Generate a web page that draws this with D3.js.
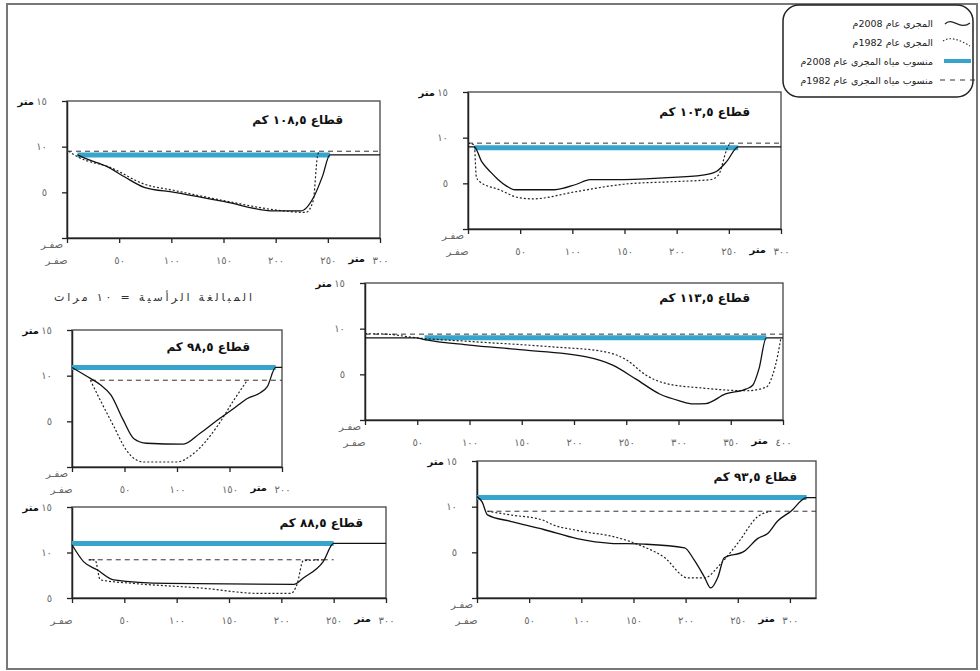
<!DOCTYPE html>
<html>
<head>
<meta charset="utf-8">
<script src="https://cdn.jsdelivr.net/npm/d3@7"></script>
<style>
  body { margin: 0; background: #fff; }
  svg { display: block; font-family: "DejaVu Sans", sans-serif; }
</style>
</head>
<body>
<svg id="chart" width="980" height="671"></svg>
<script>
// cross sections: [distance m, elevation m]
const bed2008_108 = [[10,9.1],[20,8.6],[38,7.85],[55,6.7],[74,5.55],[103,5.0],[150,4.0],[199,2.96],[224,2.96],[237,4.6],[245,6.8],[252,9.1],[300,9.1]];
const bed1982_108 = [[1.6,9.5],[10,8.9],[42,7.7],[74,5.9],[103,5.2],[150,4.1],[208,2.96],[229,2.8],[236,4.1],[240,8.9],[242,9.5]];

const bed2008_103 = [[0,9.0],[6,9.0],[13,7.4],[22,6.2],[29,5.4],[37,4.7],[45,4.3],[83,4.3],[104,4.9],[117,5.4],[142,5.4],[187,5.6],[225,5.9],[238,6.3],[248,7.4],[259,9.0],[300,9.0]];
const bed1982_103 = [[0,9.4],[6,9.2],[8,5.7],[11,5.2],[30,4.3],[50,3.4],[62,3.3],[104,4.1],[149,4.9],[200,5.2],[232,5.4],[240,5.9],[248,8.7],[251,9.4]];

const bed2008_113 = [[0,9.0],[49,9.0],[57,8.8],[100,8.2],[148,7.7],[212,6.9],[237,6.0],[259,4.5],[282,2.85],[301,2.1],[314,1.76],[326,1.8],[345,2.85],[365,3.4],[371,3.8],[377,5.6],[384,9.0],[400,9.0]];
const bed1982_113 = [[0,9.45],[20,9.4],[49,9.0],[100,8.6],[180,8.0],[228,7.5],[250,6.6],[269,4.9],[288,4.0],[323,3.5],[365,3.2],[384,3.6],[390,4.9],[395,7.1],[398,9.0]];

const bed2008_98 = [[0,10.9],[17.5,9.7],[27,9.0],[37,7.9],[49,5.1],[59,3.1],[71,2.6],[106,2.5],[122,3.7],[138,5.1],[154,6.4],[167,7.5],[179,8.1],[186,8.8],[194,10.9],[200,10.9]];
const bed1982_98 = [[17.5,9.5],[27,7.3],[40,4.4],[52,1.8],[68,0.55],[100,0.55],[116,1.5],[138,4.4],[154,7.3],[167,9.5]];

const bed2008_88 = [[0,10.85],[11,9.0],[24,8.1],[40,7.0],[91,6.6],[212,6.5],[221,7.2],[240,9.0],[250,11.0],[300,11.0]];
const bed1982_88 = [[16,9.2],[22,9.2],[27,7.0],[59,6.6],[123,6.1],[180,5.5],[209,5.5],[215,6.5],[221,9.1],[240,9.2]];

const bed2008_93 = [[0,11.1],[5,10.5],[10,9.1],[32,8.4],[64,7.5],[96,6.5],[128,5.99],[160,5.9],[199,5.5],[208,4.2],[218,2.3],[224,1.1],[231,2.3],[237,4.4],[256,5.1],[269,6.5],[279,7.1],[288,8.4],[301,9.5],[316,11.0],[325,11.0]];
const bed1982_93 = [[10,9.5],[32,9.1],[64,8.5],[71,8.1],[96,7.4],[135,6.6],[160,5.6],[179,4.5],[202,2.2],[218,2.2],[234,3.8],[250,6.0],[269,8.9],[282,9.5]];

// water levels: [from, to, level]
const level2008 = { s108: [10,252,9.1], s103: [6,259,8.9], s113: [57,384,9.0], s98: [0,194,10.9], s88: [0,250,11.0], s93: [0,316,11.0] };
const level1982 = { s108: [0,300,9.5], s103: [0,300,9.4], s113: [0,400,9.4], s98: [18,200,9.5], s88: [16,250,9.2], s93: [10,325,9.5] };

const sectionTitles = { s108: 'قطاع ١٠٨,٥ كم', s103: 'قطاع ١٠٣,٥ كم', s113: 'قطاع ١١٣,٥ كم', s98: 'قطاع ٩٨,٥ كم', s88: 'قطاع ٨٨,٥ كم', s93: 'قطاع ٩٣,٥ كم' };
const xTicks300 = [0,50,100,150,200,250,300];
const xTicks400 = [0,50,100,150,200,250,300,350,400];
const xTicks200 = [0,50,100,150,200];
const yTicks = [0,5,10,15];
const yTicks88 = [5,10,15];

const legendLabels = ['المجرى عام 2008م', 'المجرى عام 1982م', 'منسوب مياه المجرى عام 2008م', 'منسوب مياه المجرى عام 1982م'];

// panel boxes (pixels)
const panels = [
  { id: 's108', bed08: bed2008_108, bed82: bed1982_108, xMax: 300, yMin: 0, xt: xTicks300, yt: yTicks, box: [67,101,380,238], title: [343,124] },
  { id: 's103', bed08: bed2008_103, bed82: bed1982_103, xMax: 300, yMin: 0, xt: xTicks300, yt: yTicks, box: [468,92,781,229], title: [750,116] },
  { id: 's113', bed08: bed2008_113, bed82: bed1982_113, xMax: 400, yMin: 0, xt: xTicks400, yt: yTicks, box: [365,283,783,420], title: [750,302] },
  { id: 's98',  bed08: bed2008_98,  bed82: bed1982_98,  xMax: 200, yMin: 0, xt: xTicks200, yt: yTicks, box: [72,330,282,467], title: [250,351] },
  { id: 's88',  bed08: bed2008_88,  bed82: bed1982_88,  xMax: 300, yMin: 5, xt: xTicks300, yt: yTicks88, box: [72,507,386,598], title: [363,527] },
  { id: 's93',  bed08: bed2008_93,  bed82: bed1982_93,  xMax: 325, yMin: 0, xt: xTicks300, yt: yTicks, box: [477,461,816,598], title: [797,481] }
];

const BLUE = '#37a4cc';
const arDigits = n => String(n).replace(/\d/g, c => '٠١٢٣٤٥٦٧٨٩'[c]);

const svg = d3.select('#chart');

// outer frame
svg.append('rect')
  .attr('x', 7).attr('y', 4).attr('width', 970).attr('height', 665)
  .attr('fill', 'none').attr('stroke', '#777').attr('stroke-width', 2);

svg.append('text')
  .attr('x', 153).attr('y', 301)
  .attr('text-anchor', 'middle').attr('direction', 'rtl')
  .attr('font-size', 11).attr('fill', '#333')
  .attr('textLength', 198).attr('lengthAdjust', 'spacing')
  .text('المبالغة الرأسية = ١٠ مرات');

panels.forEach(p => {
  const [x0, y0, x1, y1] = p.box;
  const x = d3.scaleLinear().domain([0, p.xMax]).range([x0, x1]);
  const y = d3.scaleLinear().domain([p.yMin, 15]).range([y1, y0]);
  const g = svg.append('g');

  g.append('rect')
    .attr('x', x0).attr('y', y0).attr('width', x1 - x0).attr('height', y1 - y0)
    .attr('fill', 'none').attr('stroke', '#444').attr('stroke-width', 1.3);

  // axes
  const xa = g.append('g')
    .attr('transform', `translate(0,${y1})`)
    .call(d3.axisBottom(x).tickValues(p.xt).tickSize(5).tickSizeOuter(0).tickPadding(14)
      .tickFormat(d => d === 0 ? 'صفـر' : arDigits(d)));
  const ya = g.append('g')
    .attr('transform', `translate(${x0},0)`)
    .call(d3.axisLeft(y).tickValues(p.yt).tickSize(5).tickSizeOuter(0).tickPadding(15)
      .tickFormat(d => d === 0 ? 'صفـر' : arDigits(d)));

  [xa, ya].forEach(a => {
    a.select('.domain').attr('stroke', '#222').attr('stroke-width', 1.5);
    a.selectAll('.tick line').attr('stroke', '#222').attr('stroke-width', 1.3);
    a.selectAll('.tick text')
      .attr('font-family', '"DejaVu Sans", sans-serif')
      .attr('font-size', 10).attr('fill', '#666').attr('letter-spacing', 1.5);
  });
  xa.selectAll('.tick text').filter(d => d === 0)
    .attr('text-anchor', 'end').attr('x', 0).attr('letter-spacing', 0);
  ya.selectAll('.tick text').filter(d => d === 0)
    .attr('x', -4).attr('dy', '0.9em').attr('letter-spacing', 0);

  // unit labels
  const lastX = p.xt[p.xt.length - 1];
  g.append('text')
    .attr('x', x(lastX) - 15).attr('y', y1 + 24)
    .attr('text-anchor', 'end').attr('font-size', 10).attr('font-weight', 'bold').attr('fill', '#111')
    .text('متر');
  g.append('text')
    .attr('x', x0 - 33).attr('y', y(15) + 4)
    .attr('text-anchor', 'end').attr('font-size', 10).attr('font-weight', 'bold').attr('fill', '#111')
    .text('متر');

  // water levels
  const l08 = level2008[p.id], l82 = level1982[p.id];
  g.append('line')
    .attr('x1', x(l08[0])).attr('x2', x(l08[1]))
    .attr('y1', y(l08[2])).attr('y2', y(l08[2]))
    .attr('stroke', BLUE).attr('stroke-width', 5);
  g.append('line')
    .attr('x1', x(l82[0])).attr('x2', x(l82[1]))
    .attr('y1', y(l82[2])).attr('y2', y(l82[2]))
    .attr('stroke', '#333').attr('stroke-width', 1).attr('stroke-dasharray', '5,4');

  const line = d3.line().x(d => x(d[0])).y(d => y(d[1])).curve(d3.curveMonotoneX);
  g.append('path').datum(p.bed82)
    .attr('d', line).attr('fill', 'none')
    .attr('stroke', '#222').attr('stroke-width', 1.2).attr('stroke-dasharray', '2,2');
  g.append('path').datum(p.bed08)
    .attr('d', line).attr('fill', 'none')
    .attr('stroke', '#111').attr('stroke-width', 1.3);

  // rtl text: 'start' is the right edge
  g.append('text')
    .attr('x', p.title[0]).attr('y', p.title[1])
    .attr('text-anchor', 'start').attr('direction', 'rtl')
    .attr('font-size', 12).attr('font-weight', 'bold').attr('fill', '#111')
    .text(sectionTitles[p.id]);
});

// legend
const lg = svg.append('g');
lg.append('rect')
  .attr('x', 783).attr('y', 5).attr('width', 190).attr('height', 92).attr('rx', 16)
  .attr('fill', '#fff').attr('stroke', '#222').attr('stroke-width', 1.5);

const rowY = [23, 42, 61, 80];
lg.selectAll('text.lab')
  .data(legendLabels)
  .enter()
  .append('text')
  .attr('class', 'lab')
  .attr('x', 933).attr('y', (d, i) => rowY[i] + 3.5)
  .attr('text-anchor', 'start').attr('direction', 'rtl')
  .attr('font-size', 9.5).attr('fill', '#222')
  .text(d => d);

lg.append('path')
  .attr('d', `M945,${rowY[0] + 1} C952,${rowY[0] - 7} 960,${rowY[0] + 8} 970,${rowY[0]}`)
  .attr('fill', 'none').attr('stroke', '#222').attr('stroke-width', 1.2);
lg.append('path')
  .attr('d', `M943,${rowY[1] - 1} C950,${rowY[1] - 6} 960,${rowY[1] - 2} 970,${rowY[1] + 4}`)
  .attr('fill', 'none').attr('stroke', '#222').attr('stroke-width', 1.1).attr('stroke-dasharray', '1.5,2');
lg.append('line')
  .attr('x1', 944).attr('x2', 971).attr('y1', rowY[2]).attr('y2', rowY[2])
  .attr('stroke', BLUE).attr('stroke-width', 4);
lg.append('line')
  .attr('x1', 940).attr('x2', 975).attr('y1', rowY[3]).attr('y2', rowY[3])
  .attr('stroke', '#333').attr('stroke-width', 1).attr('stroke-dasharray', '5,5');
</script>
</body>
</html>
